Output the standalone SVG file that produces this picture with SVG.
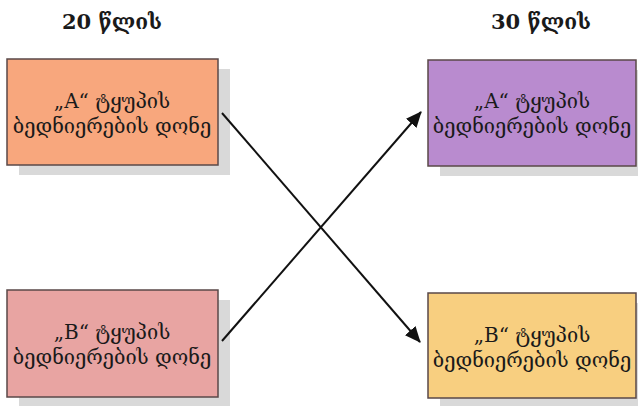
<svg xmlns="http://www.w3.org/2000/svg" width="638" height="406" viewBox="0 0 638 406">
<defs>
<style>
.box{stroke:#5a4848;stroke-width:1.5}
.shadow{fill:#d9d9d9}
.t{font-family:"DejaVu Serif","DejaVu Sans",serif;font-size:20px;fill:#1a1a1a;text-anchor:middle}
.h{font-family:"DejaVu Serif","DejaVu Sans",serif;font-size:21px;font-weight:bold;fill:#1a1a1a;text-anchor:middle}
.c{stroke:#111;stroke-width:2;fill:none}
</style>
<marker id="ah" markerWidth="16" markerHeight="14" refX="15" refY="7" orient="auto" markerUnits="userSpaceOnUse" viewBox="0 0 16 14">
<path d="M0,0 L16,7 L0,14 Z" fill="#111"/>
</marker>
</defs>
<rect width="638" height="406" fill="#fff"/>
<text class="h" x="112" y="29">20 წლის</text>
<text class="h" x="541" y="29">30 წლის</text>
<g id="a20">
<rect class="shadow" x="19" y="69" width="211" height="106"/>
<rect class="box" x="7" y="59" width="211" height="106" fill="#f8a77d"/>
<text class="t" x="112" y="108">„A“  ტყუპის</text>
<text class="t" x="112" y="133">ბედნიერების  დონე</text>
</g>
<g id="b20">
<rect class="shadow" x="19" y="300" width="211" height="106"/>
<rect class="box" x="7" y="290" width="211" height="107" fill="#e8a4a2"/>
<text class="t" x="112" y="339">„B“ ტყუპის</text>
<text class="t" x="112" y="364">ბედნიერების  დონე</text>
</g>
<g id="a30">
<rect class="shadow" x="440" y="70" width="198" height="106"/>
<rect class="box" x="428" y="60" width="208" height="106" fill="#b98bcf"/>
<text class="t" x="532" y="108">„A“  ტყუპის</text>
<text class="t" x="532" y="133">ბედნიერების  დონე</text>
</g>
<g id="b30">
<rect class="shadow" x="440" y="303" width="198" height="103"/>
<rect class="box" x="428" y="293" width="208" height="105" fill="#f8cf80"/>
<text class="t" x="532" y="342">„B“ ტყუპის</text>
<text class="t" x="532" y="367">ბედნიერების  დონე</text>
</g>
<g id="connectors">
<line class="c" x1="222" y1="113" x2="420" y2="342" marker-end="url(#ah)"/>
<line class="c" x1="222" y1="341" x2="421" y2="112" marker-end="url(#ah)"/>
</g>
</svg>
